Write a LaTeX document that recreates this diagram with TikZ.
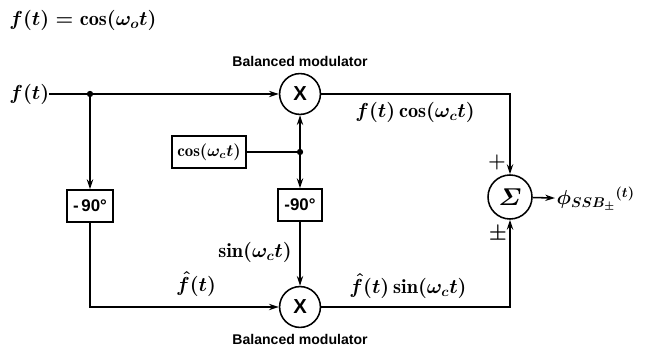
\documentclass[tikz,border=0pt]{standalone}
\usepackage{amsmath}
\usepackage{amssymb}
\usepackage{fontspec}
\newfontfamily\hvfont{Liberation Sans}
\usetikzlibrary{arrows.meta}

\begin{document}
\begin{tikzpicture}[x=0.025cm, y=-0.025cm, every node/.style={align=center, font=\Large\boldmath}, >={Stealth[length=7pt,width=4.5pt]}]
    % 样式定义
    \tikzstyle{mult} = [circle, draw=black, line width=1.1pt, minimum size=1.02cm, inner sep=0pt, font=\hvfont\bfseries\Large]
    \tikzstyle{phasebox} = [rectangle, draw=black, line width=1.1pt, minimum height=0.8cm, inner sep=1pt, font=\hvfont\large\bfseries]
    \tikzstyle{caption} = [font=\hvfont\bfseries\normalsize]
    \tikzstyle{label} = [inner sep=0pt]
    \tikzstyle{arrow} = [line width=1.1pt,->]
    \tikzstyle{wire} = [line width=1.1pt]
    \tikzstyle{dot} = [circle, fill=black, inner sep=0pt, minimum size=4.5pt]

    \useasboundingbox (0,0) rectangle (649,352);

    % 节点定义
    \node[anchor=west, inner sep=0pt] (title) at (9,20) {$f(t) = \cos(\omega_o t)$};
    \node[anchor=west, inner sep=0pt] (fin) at (9,94) {$f(t)$};

    \node[mult] (mtop) at (300,94) {X};
    \node[caption, above=1pt] (captop) at (mtop.north) {Balanced modulator};
    \node[mult] (mbot) at (300,307) {X};
    \node[caption, below=1pt] (capbot) at (mbot.south) {Balanced modulator};

    \node[phasebox, minimum width=1.15cm] (ps1) at (90,206) {-\,90°};
    \node[phasebox, minimum width=1.1cm] (ps2) at (300,205) {-90°};
    \node[phasebox, minimum width=1.85cm, font=\large\boldmath] (carrier) at (209,152) {$\cos(\omega_c t)$};

    \node[mult, minimum size=1.1cm, font=\LARGE\boldmath] (sum) at (510,197) {$\varSigma$};
    \node[anchor=west, inner sep=1pt] (out) at (555,199) {$\phi_{SSB_{\pm}}{}^{(t)}$};

    \coordinate (j1) at (90,94);
    \coordinate (j2) at (300,152);
    \node[dot] at (j1) {};
    \node[dot] at (j2) {};

    % 箭头连接
    \draw[arrow] (fin.east) -- (mtop);
    \draw[arrow] (j1) -- (ps1);
    \draw[arrow] (ps1) |- (mbot);

    \draw[wire] (carrier) -- (j2);
    \draw[arrow] (j2) -- (mtop);
    \draw[arrow] (j2) -- (ps2);
    \draw[arrow] (ps2) -- (mbot);

    \draw[arrow] (mtop) -| (sum);
    \draw[arrow] (mbot) -| (sum);
    \draw[arrow] (sum) -- (out);

    % 标注
    \node[label] (lcos) at (415,112) {$f(t)\cos(\omega_c t)$};
    \node[label] (lsin) at (408,286) {$\hat{f}(t)\sin(\omega_c t)$};
    \node[label] (lhat) at (196,284) {$\hat{f}(t)$};
    \node[label] (lcar) at (255,252) {$\sin(\omega_c t)$};
    \node[label] (lplus) at (497,162) {$+$};
    \node[label] (lpm) at (498,234) {$\pm$};
\end{tikzpicture}
\end{document}
